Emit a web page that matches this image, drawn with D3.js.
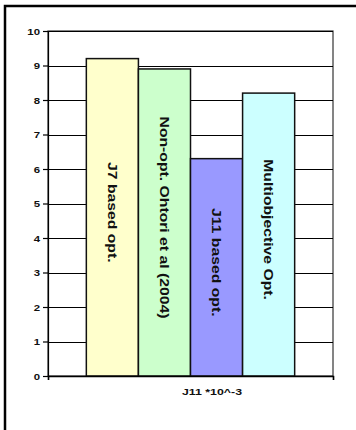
<!DOCTYPE html>
<html>
<head>
<meta charset="utf-8">
<script src="https://cdn.jsdelivr.net/npm/d3@7"></script>
<style>
  html, body { margin: 0; padding: 0; background: #fff; }
  svg { display: block; }
  text { font-family: "Liberation Sans", Arial, Helvetica, sans-serif; font-weight: bold; fill: #111; }
</style>
</head>
<body>
<svg id="chart" width="356" height="430"></svg>
<script>
// Chart data
const category = ["J11 *10^-3"];
const seriesNames = ["J7 based opt.", "Non-opt. Ohtori et al (2004)", "J11 based opt.", "Multiobjective Opt."];
const seriesValues = [9.2, 8.9, 6.3, 8.2];
const seriesColors = ["#FFFFCC", "#CCFFCC", "#9999FF", "#CCFFFF"];
const yTicks = [0, 1, 2, 3, 4, 5, 6, 7, 8, 9, 10];

const svg = d3.select("#chart");
const W = 356, H = 430;
const plot = { left: 48, top: 31, right: 333, bottom: 376 };

// Outer chart frame (right and bottom edges sit outside the visible area)
svg.append("rect")
  .attr("x", 5).attr("y", 6)
  .attr("width", W + 10).attr("height", H + 10)
  .attr("fill", "#fff").attr("stroke", "#000").attr("stroke-width", 2.5);

const y = d3.scaleLinear().domain([0, 10]).range([plot.bottom, plot.top]);
const x0 = d3.scaleBand().domain(category).range([plot.left, plot.right])
  .paddingInner(0).paddingOuter(0.184);
const x1 = d3.scaleBand().domain(seriesNames).range([0, x0.bandwidth()]).padding(0);

// Plot area
svg.append("rect")
  .attr("x", plot.left).attr("y", plot.top)
  .attr("width", plot.right - plot.left).attr("height", plot.bottom - plot.top)
  .attr("fill", "#fff").attr("stroke", "#333").attr("stroke-width", 1.2);

// Horizontal gridlines
svg.append("g").selectAll("line").data(yTicks.filter(d => d > 0)).join("line")
  .attr("x1", plot.left).attr("x2", plot.right)
  .attr("y1", d => Math.round(y(d)) + 0.5).attr("y2", d => Math.round(y(d)) + 0.5)
  .attr("stroke", "#000").attr("stroke-width", 1);

// Bars
const g = svg.append("g").attr("transform", `translate(${x0(category[0])},0)`);
g.selectAll("rect").data(seriesNames).join("rect")
  .attr("x", d => x1(d))
  .attr("y", (d, i) => y(seriesValues[i]))
  .attr("width", x1.bandwidth())
  .attr("height", (d, i) => y(0) - y(seriesValues[i]))
  .attr("fill", (d, i) => seriesColors[i])
  .attr("stroke", "#111").attr("stroke-width", 1.5);

// Bar labels, rotated to read top to bottom
g.selectAll("text.barlabel").data(seriesNames).join("text")
  .attr("class", "barlabel")
  .attr("text-anchor", "middle")
  .attr("dominant-baseline", "central")
  .style("font-size", "12.5px")
  .attr("transform", (d, i) => {
    const cx = x1(d) + x1.bandwidth() / 2;
    const cy = (y(seriesValues[i]) + y(0)) / 2 - 5;
    return `translate(${cx},${cy}) rotate(90) scale(1.26,1)`;
  })
  .text(d => d);

// Y axis
const yAxis = svg.append("g").attr("transform", `translate(${plot.left},0)`)
  .call(d3.axisLeft(y).tickValues(yTicks).tickSize(5).tickPadding(3).tickFormat(d3.format("d")));
yAxis.select(".domain").attr("stroke", "#000").attr("stroke-width", 1.2);
yAxis.selectAll(".tick line").attr("stroke", "#000").attr("stroke-width", 1.2);
yAxis.selectAll(".tick text")
  .style("font-size", "9.5px")
  .attr("fill", "#111")
  .attr("dy", "0.33em")
  .attr("transform", "translate(-8,0) scale(1.2,1) translate(8,0)");

// X axis line with end ticks
const xAxis = svg.append("g").attr("transform", `translate(0,${plot.bottom})`)
  .call(d3.axisBottom(d3.scaleLinear().domain([0, 1]).range([plot.left, plot.right]))
    .tickValues([0, 1]).tickSize(4).tickFormat(""));
xAxis.select(".domain").attr("stroke", "#000").attr("stroke-width", 1.5);
xAxis.selectAll(".tick line").attr("stroke", "#000").attr("stroke-width", 1.2);

// Category / axis label
svg.append("text")
  .attr("text-anchor", "middle")
  .style("font-size", "9.5px")
  .attr("transform", `translate(212,395) scale(1.3,1)`)
  .text(category[0]);
</script>
</body>
</html>
